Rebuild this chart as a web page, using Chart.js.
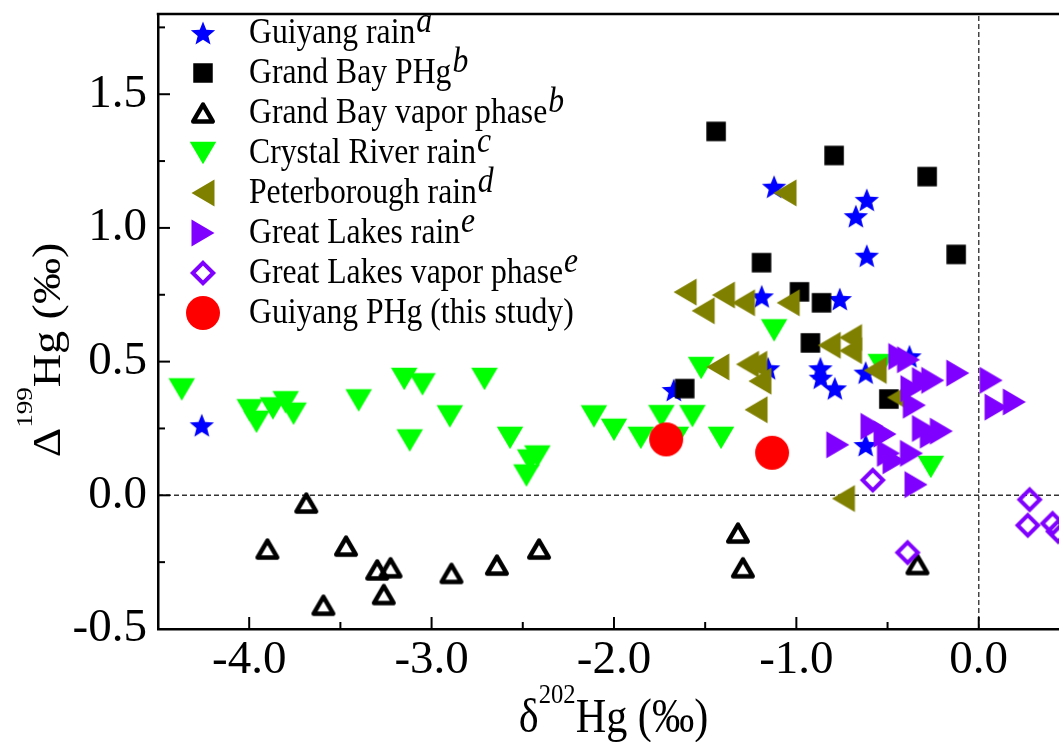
<!DOCTYPE html>
<html><head><meta charset="utf-8">
<script src="https://cdn.jsdelivr.net/npm/chart.js@4.4.0/dist/chart.umd.min.js"></script>
<style>html,body{margin:0;padding:0;background:#fff;overflow:hidden}#wrap{position:relative;width:1059px;height:742px}</style>
</head><body><div id="wrap"><canvas id="c" width="1059" height="742"></canvas></div>
<script>
// ---------- data ----------
const guiyangRainX = [-4.26,-1.672,-1.19,-1.155,-1.122,-0.614,-0.674,-0.614,-0.762,-0.868,-0.866,-0.789,-0.62,-0.38,-0.62];
const guiyangRainY = [0.262,0.394,0.744,0.475,1.154,1.105,1.044,0.896,0.734,0.475,0.44,0.40,0.459,0.52,0.188];

const grandBayPHgX = [-1.44,-0.793,-0.283,-0.124,-1.191,-0.983,-0.862,-0.923,-1.612,-0.493];
const grandBayPHgY = [1.361,1.271,1.192,0.901,0.87,0.761,0.72,0.57,0.399,0.36];

const grandBayVaporX = [-3.687,-3.90,-3.469,-3.298,-3.225,-3.262,-3.593,-2.891,-2.642,-2.411,-1.32,-1.293,-0.336];
const grandBayVaporY = [-0.029,-0.201,-0.19,-0.279,-0.271,-0.371,-0.411,-0.292,-0.261,-0.201,-0.141,-0.271,-0.259];

const crystalRiverX = [-4.37,-3.997,-3.96,-3.87,-3.80,-3.757,-3.40,-3.15,-3.05,-3.12,-2.90,-2.71,-2.57,-2.42,-2.46,-2.48,-2.11,-2.00,-1.853,-1.74,-1.57,-1.66,-1.413,-1.522,-1.122,-0.537,-0.263];
const crystalRiverY = [0.396,0.318,0.275,0.325,0.348,0.305,0.355,0.435,0.415,0.205,0.295,0.435,0.215,0.145,0.13,0.074,0.295,0.245,0.215,0.296,0.296,0.215,0.215,0.476,0.617,0.487,0.106];

const peterboroughX = [-1.61,-1.511,-1.40,-1.29,-1.045,-1.431,-1.268,-1.223,-1.20,-1.221,-0.82,-0.703,-0.703,-0.568,-0.44,-0.742,-1.062];
const peterboroughY = [0.76,0.69,0.749,0.72,0.72,0.48,0.49,0.49,0.427,0.32,0.561,0.59,0.541,0.467,0.366,-0.012,1.131];

const greatLakesRainX = [-0.773,-0.433,-0.385,-0.115,0.068,0.095,0.195,-0.303,-0.252,-0.366,-0.353,-0.585,-0.514,-0.495,-0.464,-0.369,-0.303,-0.205,-0.344,-0.26];
const greatLakesRainY = [0.189,0.519,0.507,0.457,0.43,0.33,0.349,0.429,0.43,0.399,0.337,0.258,0.229,0.157,0.129,0.157,0.25,0.24,0.04,0.225];

const greatLakesVaporX = [-0.581,-0.39,0.279,0.269,0.405,0.435];
const greatLakesVaporY = [0.057,-0.214,-0.016,-0.112,-0.105,-0.135];

const guiyangPHgX = [-1.714,-1.133];
const guiyangPHgY = [0.209,0.159];

const legendLabels = ['Guiyang rain','Grand Bay PHg','Grand Bay vapor phase','Crystal River rain','Peterborough rain','Great Lakes rain','Great Lakes vapor phase','Guiyang PHg (this study)'];
const legendSups = ['a','b','b','c','d','e','e',''];

const xTickValues = [-4,-3,-2,-1,0];
const xMinorTicks = [-3.5,-2.5,-1.5,-0.5];
const yTickValues = [-0.5,0,0.5,1,1.5];
const yMinorTicks = [-0.25,0.25,0.75,1.25,1.75];
const xRange = [-4.5, 0.44];
const yRange = [-0.5, 1.8];

// ---------- marker images ----------
function mk(w,h,draw){const c=document.createElement('canvas');c.width=w;c.height=h;const g=c.getContext('2d');draw(g,w/2,h/2);return c;}
const starImg = mk(28,28,(g,cx,cy)=>{const R=12.8,r=5.6;cy+=1.2;g.beginPath();for(let i=0;i<10;i++){const a=-Math.PI/2+i*Math.PI/5;const rr=i%2?r:R;g.lineTo(cx+rr*Math.cos(a),cy+rr*Math.sin(a));}g.closePath();g.fillStyle='#0000ff';g.fill();});
const squareImg = mk(22,22,(g,cx,cy)=>{g.fillStyle='#000';g.fillRect(cx-9.75,cy-9.75,19.5,19.5);});
const openTriImg = mk(30,28,(g,cx,cy)=>{const s=19.5,h=s*0.866;g.beginPath();g.moveTo(cx,cy-h/2);g.lineTo(cx+s/2,cy+h/2);g.lineTo(cx-s/2,cy+h/2);g.closePath();g.lineJoin='round';g.lineWidth=4.5;g.strokeStyle='#000';g.stroke();});
const downTriImg = mk(30,26,(g,cx,cy)=>{g.beginPath();g.moveTo(cx-13.25,cy-11.25);g.lineTo(cx+13.25,cy-11.25);g.lineTo(cx,cy+11.25);g.closePath();g.fillStyle='#00ff00';g.fill();});
const leftTriImg = mk(26,30,(g,cx,cy)=>{g.beginPath();g.moveTo(cx-11.5,cy);g.lineTo(cx+11.5,cy-13.5);g.lineTo(cx+11.5,cy+13.5);g.closePath();g.fillStyle='#808000';g.fill();});
const rightTriImg = mk(26,30,(g,cx,cy)=>{g.beginPath();g.moveTo(cx+11.5,cy);g.lineTo(cx-11.5,cy-13.5);g.lineTo(cx-11.5,cy+13.5);g.closePath();g.fillStyle='#8000ff';g.fill();});
const diamondImg = mk(30,30,(g,cx,cy)=>{const h=10.2;g.beginPath();g.moveTo(cx,cy-h);g.lineTo(cx+h,cy);g.lineTo(cx,cy+h);g.lineTo(cx-h,cy);g.closePath();g.lineJoin='miter';g.lineWidth=4;g.strokeStyle='#8000ff';g.stroke();});
const circleImg = mk(36,36,(g,cx,cy)=>{g.beginPath();g.arc(cx,cy,17,0,Math.PI*2);g.fillStyle='#ff0000';g.fill();});

const markerImgs = [starImg,squareImg,openTriImg,downTriImg,leftTriImg,rightTriImg,diamondImg,circleImg];
const seriesX = [guiyangRainX,grandBayPHgX,grandBayVaporX,crystalRiverX,peterboroughX,greatLakesRainX,greatLakesVaporX,guiyangPHgX];
const seriesY = [guiyangRainY,grandBayPHgY,grandBayVaporY,crystalRiverY,peterboroughY,greatLakesRainY,greatLakesVaporY,guiyangPHgY];

const datasets = legendLabels.map((lab,i)=>({
  label: lab,
  data: seriesX[i].map((x,j)=>({x:x,y:seriesY[i][j]})),
  pointStyle: markerImgs[i],
  pointRadius: 10,
  pointHoverRadius: 10,
  showLine: false,
  order: 20 - i,
  clip: false
}));
datasets.push({label:'zeroH',data:[{x:xRange[0],y:0},{x:xRange[1],y:0}],showLine:true,pointRadius:0,borderColor:'#333',borderWidth:1.5,borderDash:[5,3],order:100});
datasets.push({label:'zeroV',data:[{x:0,y:yRange[0]},{x:0,y:yRange[1]}],showLine:true,pointRadius:0,borderColor:'#444',borderWidth:1.5,borderDash:[5,3],order:101});

const SERIF = '"Liberation Serif", "Times New Roman", serif';

function condText(ctx,text,x,y,font,sx){ctx.save();ctx.translate(x,y);ctx.scale(sx,1);ctx.font=font;ctx.fillText(text,0,0);const w=ctx.measureText(text).width*sx;ctx.restore();return w;}

const decor = {
  id:'decor',
  afterDraw(chart){
    const ctx=chart.ctx, a=chart.chartArea, xs=chart.scales.x, ys=chart.scales.y;
    ctx.save();
    ctx.strokeStyle='#000';
    ctx.lineWidth=2.5;
    ctx.beginPath();ctx.moveTo(a.left-1.25,a.top);ctx.lineTo(a.right,a.top);ctx.stroke();
    ctx.lineWidth=2;
    const seg=(x1,y1,x2,y2)=>{ctx.beginPath();ctx.moveTo(x1,y1);ctx.lineTo(x2,y2);ctx.stroke();};
    xTickValues.forEach(v=>{const p=xs.getPixelForValue(v);seg(p,a.bottom,p,a.bottom-12);});
    xMinorTicks.forEach(v=>{const p=xs.getPixelForValue(v);seg(p,a.bottom,p,a.bottom-7);});
    yTickValues.forEach(v=>{const p=ys.getPixelForValue(v);seg(a.left,p,a.left+12,p);});
    yMinorTicks.forEach(v=>{const p=ys.getPixelForValue(v);seg(a.left,p,a.left+7,p);});

    // legend
    ctx.fillStyle='#000';
    ctx.textBaseline='alphabetic';
    ctx.textAlign='left';
    legendLabels.forEach((lab,i)=>{
      const yc=33+40*i;
      const img=markerImgs[i];
      ctx.drawImage(img,203-img.width/2,yc-img.height/2);
      const w=condText(ctx,lab,249,yc+10,'36px '+SERIF,0.88);
      if(legendSups[i]) condText(ctx,legendSups[i],249+w+1,yc-1.5,'italic 36px '+SERIF,0.88);
    });

    // x title
    const fx='48px '+SERIF, fs='28px '+SERIF, sx=0.88;
    ctx.font=fx; const w1=ctx.measureText('\u03B4').width*sx, w3=ctx.measureText('Hg (\u2030)').width*sx;
    ctx.font=fs; const w2=ctx.measureText('202').width*sx;
    let x0=(a.left+a.right)/2+5-(w1+w2+w3)/2;
    const yb=732;
    x0+=condText(ctx,'\u03B4',x0,yb,fx,sx);
    x0+=condText(ctx,'202',x0,yb-29,fs,sx);
    condText(ctx,'Hg (\u2030)',x0,yb,fx,sx);

    // y title (rotated)
    ctx.save();
    ctx.translate(60,350);
    ctx.rotate(-Math.PI/2);
    ctx.scale(1,0.88);
    const fy='46px '+SERIF, fys='27px '+SERIF;
    ctx.font=fy; const v1=ctx.measureText('\u0394').width, v3=ctx.measureText('Hg (\u2030)').width;
    ctx.font=fys; const v2=ctx.measureText('199').width;
    let t=-(v1+v2+v3)/2;
    ctx.font=fy; ctx.fillText('\u0394',t,0); t+=v1;
    ctx.font=fys; ctx.fillText('199',t,-28/0.88); t+=v2;
    ctx.font=fy; ctx.fillText('Hg (\u2030)',t,0);
    ctx.restore();
    ctx.restore();
  }
};

new Chart(document.getElementById('c'),{
  type:'scatter',
  data:{datasets:datasets},
  options:{
    responsive:false,
    animation:false,
    devicePixelRatio:1,
    layout:{autoPadding:false,padding:{top:14,right:0,left:0,bottom:0}},
    plugins:{legend:{display:false},tooltip:{enabled:false}},
    scales:{
      x:{type:'linear',min:xRange[0],max:xRange[1],
        afterBuildTicks:(s)=>{s.ticks=xTickValues.map(v=>({value:v}));},
        afterFit:(s)=>{s.height=113;s.paddingLeft=0;s.paddingRight=0;},
        grid:{display:false,drawTicks:false},
        border:{display:true,color:'#000',width:2.5},
        ticks:{color:'#000',padding:3,maxRotation:0,autoSkip:false,font:{family:SERIF,size:47},callback:(v)=>Number(v).toFixed(1)}},
      y:{type:'linear',min:yRange[0],max:yRange[1],
        afterBuildTicks:(s)=>{s.ticks=yTickValues.map(v=>({value:v}));},
        afterFit:(s)=>{s.width=158;s.paddingTop=0;s.paddingBottom=0;},
        grid:{display:false,drawTicks:false},
        border:{display:true,color:'#000',width:2.5},
        ticks:{color:'#000',padding:11,autoSkip:false,font:{family:SERIF,size:47},callback:(v)=>Number(v).toFixed(1)}}
    }
  },
  plugins:[decor]
});
</script></body></html>
